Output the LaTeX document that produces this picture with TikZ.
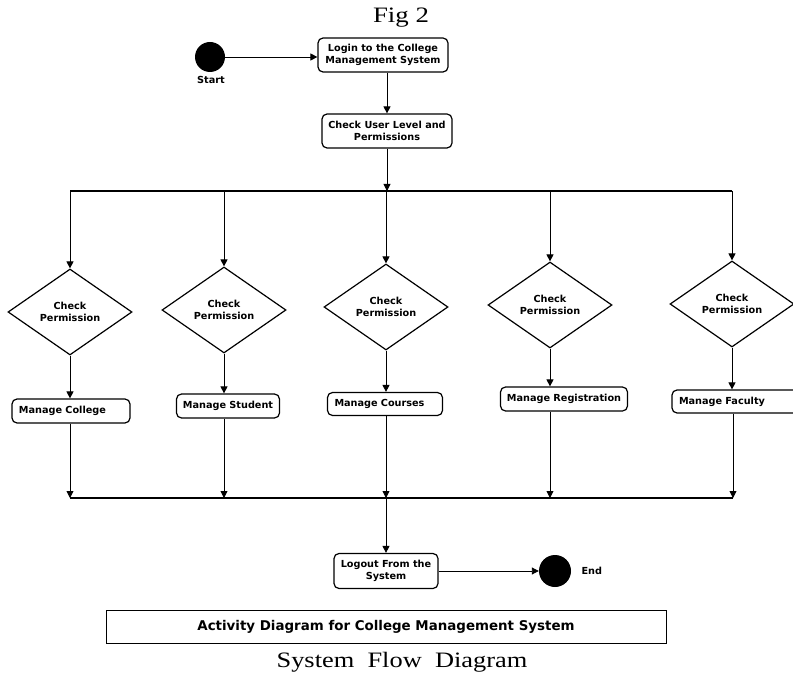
\documentclass[tikz,border=0pt]{standalone}
\usepackage{fontspec}
\usepackage{graphicx}
\setmainfont{DejaVu Sans}
\newfontfamily\serifface{Liberation Serif}
\usetikzlibrary{arrows.meta,shapes.geometric}
\begin{document}
\begin{tikzpicture}[x=1pt,y=-1pt,
  txt/.style={font=\bfseries\fontsize{9.7}{12}\selectfont},
  act/.style={txt, draw, line width=1.2pt, rounded corners=5pt, align=center, inner sep=0pt},
  actl/.style={act, align=left, inner xsep=7pt},
  dec/.style={txt, draw, line width=1.2pt, diamond, align=center, inner sep=0pt,
              minimum width=124pt, minimum height=86pt},
  dot/.style={circle, fill=black, inner sep=0pt},
  arr/.style={line width=0.9pt, -{Triangle[length=7pt,width=7pt]}},
  bar/.style={line width=1.3pt},
  serif/.style={font=\serifface\fontsize{22}{24}\selectfont, inner sep=0pt}
]
\fill[white] (0,0) rectangle (793,679);
\useasboundingbox (0,0) rectangle (793,679);

% titles
\node[serif] (fig) at (401,18) {\scalebox{1.22}[1]{Fig 2}};
\node[serif] (sfd) at (402,662) {\scalebox{1.2}[1]{System~~Flow~~Diagram}};

% start
\node[dot, minimum size=30pt] (start) at (210,57) {};
\node[txt] (startlbl) at (211,80) {Start};
\node[act, minimum width=130pt, minimum height=34pt] (login) at (383,55) {Login to the College\\Management System};
\node[act, minimum width=130pt, minimum height=34pt] (check) at (387,131) {Check User Level and\\Permissions};

\draw[arr] (start.east) -- (start.east -| login.west);
\draw[arr] (check.north |- login.south) -- (check.north);

% upper fork bar
\coordinate (bl) at (70,191);
\coordinate (br) at (732,191);
\coordinate (bt) at (387,191);
\draw[bar] (bl) -- (br);
\draw[arr] (check.south) -- (bt);

% decisions
\node[dec] (d1) at (70,312) {Check\\Permission};
\node[dec] (d2) at (224,310) {Check\\Permission};
\node[dec] (d3) at (386,307) {Check\\Permission};
\node[dec] (d4) at (550,305) {Check\\Permission};
\node[dec] (d5) at (732,304) {Check\\Permission};

\foreach \d in {d1,d2,d3,d4,d5}{
  \draw[arr] (\d |- bl) -- (\d.north);
}

% activities
\node[actl, text width=104pt, minimum height=24pt] (m1) at (71,411) {Manage College};
\node[act, minimum width=103pt, minimum height=24pt] (m2) at (228,406) {Manage Student};
\node[actl, text width=101pt, minimum height=23pt] (m3) at (385,404) {Manage Courses};
\node[act, minimum width=127pt, minimum height=24pt] (m4) at (564,399) {Manage Registration};
\node[actl, text width=116pt, minimum height=23pt] (m5) at (737,401.5) {Manage Faculty};

\draw[arr] (d1.south) -- (d1.south |- m1.north);
\draw[arr] (d2.south) -- (d2.south |- m2.north);
\draw[arr] (d3.south) -- (d3.south |- m3.north);
\draw[arr] (d4.south) -- (d4.south |- m4.north);
\draw[arr] (d5.south) -- (d5.south |- m5.north);

% lower join bar
\coordinate (ll) at (70,498);
\coordinate (lr) at (733,498);
\draw[bar] (ll) -- (lr);
\draw[arr] (d1 |- m1.south) -- (d1 |- ll);
\draw[arr] (d2 |- m2.south) -- (d2 |- ll);
\draw[arr] (d3 |- m3.south) -- (d3 |- ll);
\draw[arr] (d4 |- m4.south) -- (d4 |- ll);
\draw[arr] (733,0 |- m5.south) -- (lr);

% logout and end
\node[act, minimum width=104pt, minimum height=35pt] (logout) at (386,571) {Logout From the\\System};
\draw[arr] (d3 |- ll) -- (logout.north);
\node[dot, minimum size=32pt] (end) at (555,571) {};
\node[txt, anchor=west] (endlbl) at (578,571) {End};
\draw[arr] (logout.east) -- (end.west);

% caption box
\node[draw, line width=0.8pt, minimum width=560pt, minimum height=33pt, inner sep=0pt,
      font=\bfseries\fontsize{13.4}{15}\selectfont] (cap) at (386,626.5)
      {Activity Diagram for College Management System};
\end{tikzpicture}
\end{document}
